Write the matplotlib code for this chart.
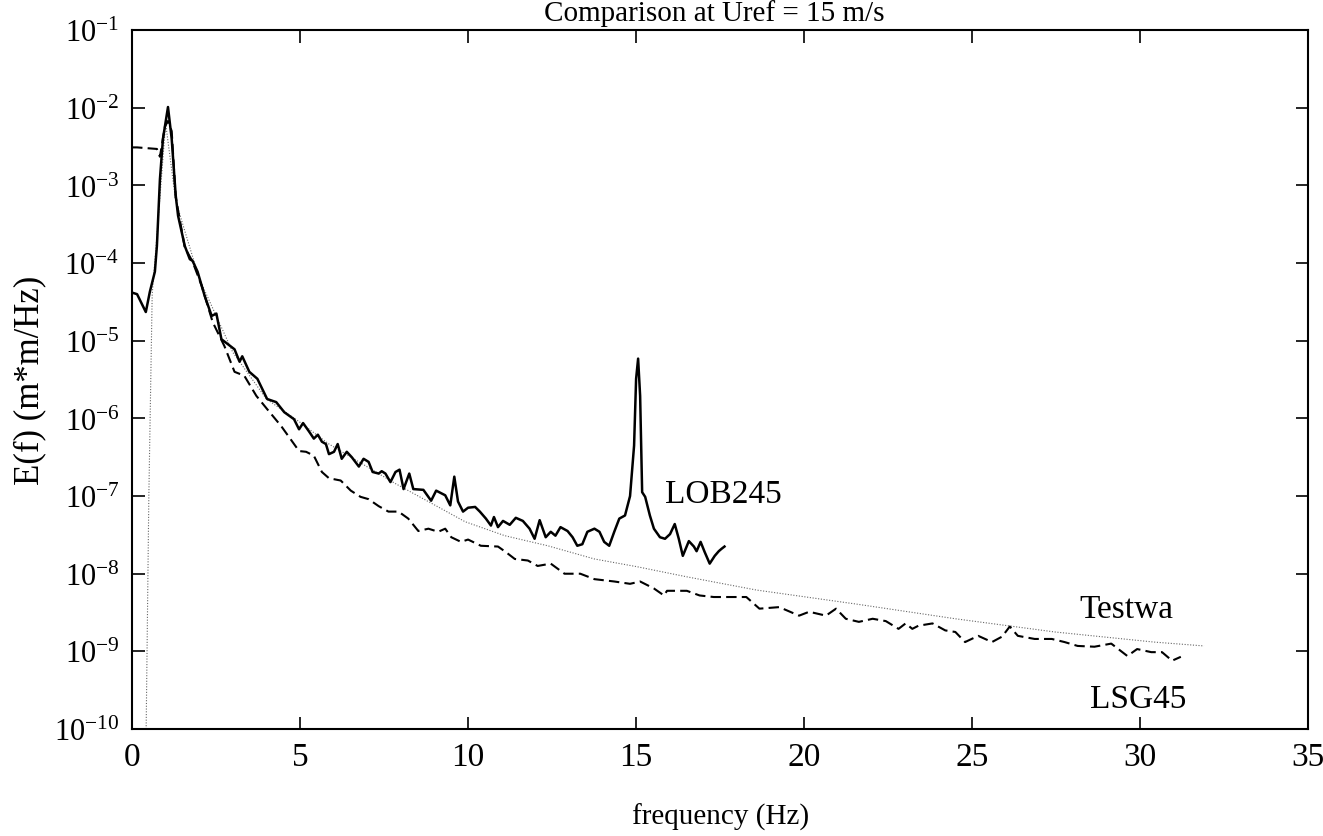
import numpy as np
import matplotlib
matplotlib.use("Agg")
import matplotlib.pyplot as plt
from matplotlib.ticker import FixedLocator

plt.rcParams['font.family'] = ['Liberation Serif', 'DejaVu Serif']
plt.rcParams['mathtext.fontset'] = 'custom'
plt.rcParams['mathtext.rm'] = 'Liberation Serif'

# LOB245 (solid): frequency (Hz) and log10 E(f)
lob_f = [0.0, 0.15, 0.41, 0.53, 0.68, 0.74, 0.83, 0.92, 1.07, 1.18, 1.30, 1.37,
         1.57, 1.72, 1.80, 1.95, 2.16, 2.37, 2.51, 2.66, 2.84, 3.05, 3.20, 3.28,
         3.49, 3.73, 4.02, 4.29, 4.53, 4.82, 4.97, 5.09, 5.27, 5.41, 5.53, 5.65,
         5.77, 5.86, 6.01, 6.12, 6.24, 6.39, 6.54, 6.75, 6.89, 7.04, 7.16, 7.34,
         7.43, 7.54, 7.69, 7.84, 7.96, 8.08, 8.25, 8.37, 8.67, 8.90, 9.05, 9.32,
         9.47, 9.59, 9.70, 9.85, 10.00, 10.21, 10.35, 10.53, 10.68, 10.77, 10.89,
         11.04, 11.24, 11.42, 11.63, 11.83, 11.98, 12.13, 12.31, 12.46, 12.60,
         12.75, 12.96, 13.11, 13.25, 13.40, 13.55, 13.76, 13.91, 14.05, 14.20,
         14.35, 14.50, 14.67, 14.82, 14.94, 15.00, 15.06, 15.12, 15.18, 15.27,
         15.41, 15.53, 15.71, 15.86, 16.01, 16.15, 16.27, 16.39, 16.57, 16.72,
         16.80, 16.92, 17.04, 17.19, 17.34, 17.46, 17.54, 17.63]
lob_log = [-4.38, -4.40, -4.63, -4.37, -4.11, -3.78, -2.92, -2.40, -1.99, -2.40,
           -3.13, -3.39, -3.78, -3.95, -3.97, -4.11, -4.42, -4.68, -4.65, -4.98,
           -5.04, -5.11, -5.27, -5.20, -5.40, -5.49, -5.75, -5.79, -5.92, -6.01,
           -6.14, -6.06, -6.17, -6.26, -6.21, -6.30, -6.33, -6.46, -6.43, -6.33,
           -6.52, -6.43, -6.50, -6.62, -6.52, -6.56, -6.69, -6.71, -6.68, -6.71,
           -6.82, -6.69, -6.66, -6.91, -6.71, -6.91, -6.92, -7.06, -6.93, -6.99,
           -7.12, -6.75, -7.07, -7.20, -7.15, -7.14, -7.20, -7.29, -7.38, -7.27,
           -7.40, -7.32, -7.37, -7.28, -7.32, -7.42, -7.55, -7.31, -7.53, -7.46,
           -7.51, -7.40, -7.45, -7.53, -7.64, -7.62, -7.46, -7.42, -7.46, -7.59,
           -7.64, -7.46, -7.29, -7.25, -7.00, -6.35, -5.49, -5.23, -5.71, -6.95,
           -7.01, -7.25, -7.42, -7.53, -7.55, -7.49, -7.36, -7.55, -7.77, -7.58,
           -7.65, -7.71, -7.59, -7.72, -7.87, -7.77, -7.71, -7.68, -7.65]

# LSG45 (dashed)
lsg_f = [0.0, 0.15, 0.74, 0.83, 0.98, 1.07, 1.18, 1.30, 1.57, 1.80, 2.07, 2.40,
         2.75, 3.05, 3.34, 3.70, 4.02, 4.44, 4.97, 5.18, 5.41, 5.65, 5.86, 6.21,
         6.51, 6.80, 7.04, 7.34, 7.63, 7.93, 8.22, 8.52, 8.82, 9.11, 9.32, 9.50,
         9.79, 10.00, 10.38, 10.89, 11.12, 11.39, 11.78, 12.07, 12.46, 12.87,
         13.34, 13.76, 14.35, 14.82, 15.12, 15.53, 15.83, 15.92, 16.51, 16.89,
         17.31, 18.28, 18.67, 19.26, 19.85, 20.15, 20.65, 20.95, 21.24, 21.63,
         22.04, 22.43, 22.81, 23.02, 23.22, 23.40, 23.82, 24.20, 24.50, 24.79,
         25.18, 25.59, 25.89, 26.12, 26.36, 26.86, 27.37, 27.75, 28.14, 28.64,
         29.14, 29.62, 29.91, 30.33, 30.65, 30.95, 31.21]
lsg_log = [-2.51, -2.51, -2.53, -2.63, -2.24, -2.17, -2.30, -3.15, -3.80, -3.98,
           -4.29, -4.76, -5.07, -5.40, -5.45, -5.71, -5.88, -6.10, -6.42, -6.43,
           -6.48, -6.69, -6.77, -6.80, -6.93, -7.01, -7.04, -7.13, -7.20, -7.20,
           -7.29, -7.45, -7.42, -7.46, -7.42, -7.53, -7.59, -7.56, -7.64, -7.65,
           -7.72, -7.81, -7.83, -7.90, -7.87, -8.00, -8.00, -8.07, -8.10, -8.13,
           -8.10, -8.19, -8.28, -8.22, -8.22, -8.28, -8.30, -8.30, -8.45, -8.43,
           -8.54, -8.49, -8.54, -8.45, -8.58, -8.62, -8.58, -8.61, -8.71, -8.64,
           -8.71, -8.67, -8.64, -8.73, -8.75, -8.88, -8.80, -8.88, -8.81, -8.68,
           -8.80, -8.84, -8.84, -8.88, -8.93, -8.94, -8.90, -9.06, -8.97, -9.01,
           -9.01, -9.12, -9.07]

# Testwa (dotted)
tw_f = [0.42, 0.50, 0.60, 0.75, 1.00, 1.30, 2.00, 3.00, 4.00, 5.00, 5.86, 7.84,
        9.11, 9.91, 11.09, 12.37, 13.76, 15.03, 16.51, 18.58, 21.54, 24.50,
        27.46, 30.41, 31.90]
tw_log = [-10.0, -7.0, -4.4, -3.6, -2.2, -3.2, -4.2, -5.15, -5.75, -6.05, -6.33,
          -6.84, -7.14, -7.33, -7.51, -7.64, -7.81, -7.91, -8.04, -8.21, -8.39,
          -8.58, -8.75, -8.88, -8.93]

fig = plt.figure(figsize=(13.23, 8.37), dpi=100)
ax = fig.add_axes([0.0998, 0.1278, 0.889, 0.835])

ax.plot(tw_f, 10.0 ** np.array(tw_log), color='#666666', lw=0.8,
        linestyle=(0, (1, 1.5)))
ax.plot(lsg_f, 10.0 ** np.array(lsg_log), color='black', lw=1.5,
        linestyle=(0, (5, 2.5)))
ax.plot(lob_f, 10.0 ** np.array(lob_log), color='black', lw=1.8)

ax.set_yscale('log')
ax.set_xlim(0, 35)
ax.set_ylim(1e-10, 1e-1)
ax.xaxis.set_major_locator(FixedLocator(range(0, 36, 5)))
ax.yaxis.set_major_locator(FixedLocator([10.0 ** k for k in range(-10, 0)]))
ax.yaxis.set_minor_locator(FixedLocator([]))
ax.tick_params(direction='in', top=True, right=True, length=9, width=1.2,
               pad=9)
ax.tick_params(axis='x', labelsize=24)
ax.tick_params(axis='y', labelsize=22)
for s in ax.spines.values():
    s.set_linewidth(1.5)

ax.text(15.85, 10 ** -6.97, 'LOB245', fontsize=24, va='center')
ax.text(28.2, 10 ** -8.45, 'Testwa', fontsize=24, va='center')
ax.text(28.5, 10 ** -9.61, 'LSG45', fontsize=24, va='center')

ax.set_xlabel('frequency (Hz)', fontsize=21, labelpad=22)
ax.set_ylabel('E(f) (m*m/Hz)', fontsize=25, labelpad=6)
fig.text(0.54, 1 - 21 / 837, 'Comparison at Uref = 15 m/s', fontsize=21,
         ha='center', va='baseline')

plt.savefig('out.png', dpi=100)
